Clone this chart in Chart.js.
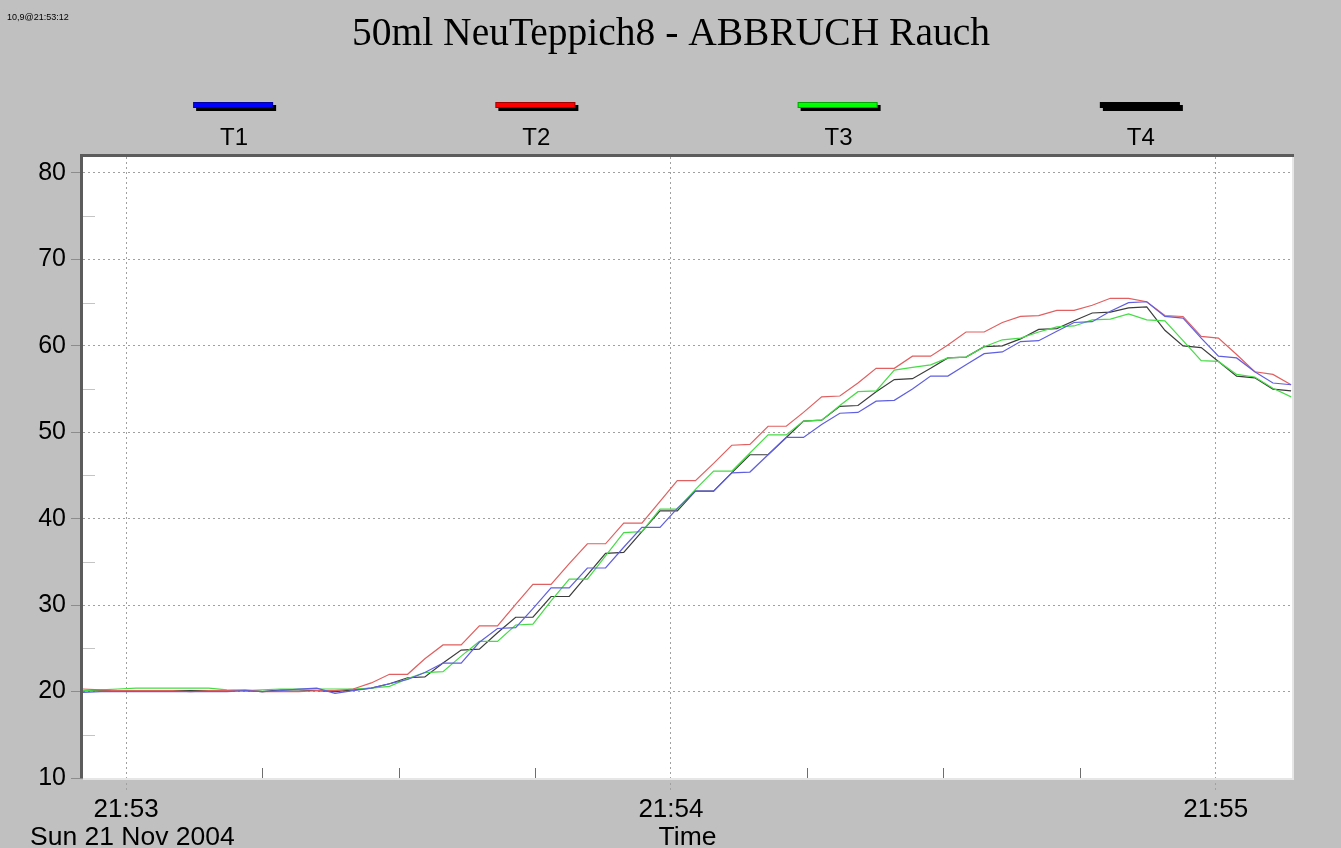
<!DOCTYPE html>
<html>
<head>
<meta charset="utf-8">
<title>50ml NeuTeppich8 - ABBRUCH Rauch</title>
<script src="https://cdn.jsdelivr.net/npm/chart.js@4.4.0/dist/chart.umd.min.js"></script>
<style>
    html, body { margin: 0; padding: 0; background: #c0c0c0; }
    #wrap { position: relative; width: 1341px; height: 848px; }
</style>
</head>
<body>
<div id="wrap"><canvas id="tempChart"></canvas></div>
<script>
// seconds after 21:53:00, one sample about every 2 s
const times = [-4.8, -2.8, -0.9, 1.1, 3.1, 5.1, 7.1, 9.1, 11.1, 13.1, 15.0, 17.0, 19.0, 21.0, 23.0, 25.0, 27.0,
    29.0, 31.0, 32.9, 34.9, 36.9, 38.9, 40.9, 42.9, 44.8, 46.8, 48.8, 50.8, 52.8, 54.8, 56.8, 58.8, 60.7, 62.7,
    64.7, 66.7, 68.7, 70.7, 72.7, 74.6, 76.6, 78.6, 80.6, 82.6, 84.6, 86.6, 88.6, 90.5, 92.5, 94.5, 96.5, 98.5,
    100.5, 102.5, 104.4, 106.4, 108.4, 110.4, 112.4, 114.4, 116.4, 118.4, 120.3, 122.3, 124.3, 126.3, 128.3];

const t1 = [19.9, 20.0, 20.0, 20.0, 20.0, 20.0, 20.0, 20.0, 20.0, 20.1, 20.0, 20.1, 20.3, 20.4, 19.8, 20.1, 20.4,
    20.9, 21.4, 22.2, 23.3, 23.3, 25.7, 27.3, 27.4, 29.6, 32.0, 32.0, 34.3, 34.3, 36.7, 39.0, 39.0, 41.2, 43.2,
    43.2, 45.3, 45.4, 47.4, 49.4, 49.4, 50.9, 52.2, 52.3, 53.6, 53.7, 55.0, 56.5, 56.5, 57.8, 59.1, 59.3, 60.5,
    60.6, 61.7, 62.7, 62.8, 64.0, 65.0, 65.1, 63.4, 63.2, 60.9, 58.8, 58.6, 57.0, 55.7, 55.5];
const t2 = [20.3, 20.2, 20.1, 20.1, 20.1, 20.1, 20.0, 20.1, 20.1, 20.2, 20.0, 20.0, 20.0, 20.1, 20.1, 20.3, 21.0,
    22.0, 22.0, 23.8, 25.4, 25.4, 27.6, 27.6, 30.1, 32.4, 32.4, 34.8, 37.1, 37.1, 39.5, 39.5, 42.0, 44.4, 44.4,
    46.4, 48.5, 48.6, 50.7, 50.7, 52.3, 54.1, 54.2, 55.7, 57.4, 57.4, 58.8, 58.8, 60.1, 61.6, 61.6, 62.7, 63.4,
    63.5, 64.1, 64.1, 64.7, 65.5, 65.5, 65.1, 63.5, 63.4, 61.1, 60.9, 59.0, 57.0, 56.7, 55.5];
const t3 = [20.1, 20.2, 20.3, 20.4, 20.4, 20.4, 20.4, 20.4, 20.2, 20.1, 20.2, 20.3, 20.3, 20.3, 20.3, 20.3, 20.4,
    20.6, 21.5, 22.2, 22.3, 24.1, 25.8, 25.8, 27.7, 27.8, 30.5, 33.0, 33.0, 35.7, 38.4, 38.5, 41.1, 41.1, 43.4,
    45.5, 45.5, 47.6, 49.7, 49.7, 51.3, 51.4, 53.1, 54.7, 54.8, 57.2, 57.5, 57.8, 58.6, 58.7, 59.9, 60.7, 60.9,
    61.6, 62.2, 62.3, 63.0, 63.1, 63.7, 63.0, 62.9, 60.6, 58.3, 58.2, 56.7, 56.4, 55.1, 54.1];
const t4 = [20.1, 20.1, 20.1, 20.1, 20.1, 20.1, 20.1, 20.1, 20.1, 20.1, 20.0, 20.2, 20.2, 20.1, 20.0, 20.2, 20.4,
    20.9, 21.6, 21.7, 23.3, 24.8, 24.9, 26.8, 28.6, 28.6, 31.0, 31.0, 33.5, 36.0, 36.1, 38.5, 40.9, 40.9, 43.2,
    43.2, 45.3, 47.4, 47.4, 49.4, 51.3, 51.4, 53.0, 53.1, 54.7, 56.1, 56.2, 57.4, 58.6, 58.7, 59.9, 60.0, 60.8,
    61.9, 62.0, 62.9, 63.8, 63.9, 64.4, 64.5, 61.8, 60.0, 59.8, 58.2, 56.5, 56.3, 55.0, 54.8];

const seriesNames = ['T1', 'T2', 'T3', 'T4'];
const legendColors = ['#0000ff', '#ff0000', '#00ff00', '#000000'];
const lineColors = ['rgb(95, 95, 225)', 'rgb(225, 95, 95)', 'rgb(70, 220, 70)', 'rgb(60, 60, 60)'];

const xTicks = [0, 60, 120];
const xTickLabels = ['21:53', '21:54', '21:55'];
const xMinorTicks = [15, 30, 45, 75, 90, 105];
const yTicks = [10, 20, 30, 40, 50, 60, 70, 80];
const yMinorTicks = [15, 25, 35, 45, 55, 65, 75];

const chartTitle = '50ml NeuTeppich8 - ABBRUCH Rauch';
const cornerText = '10,9@21:53:12';
const dateText = 'Sun 21 Nov 2004';
const axisText = 'Time';

const SANS = '"Liberation Sans", Arial, sans-serif';
const SERIF = '"Liberation Serif", "Times New Roman", serif';

// background, frame, legend and the extra texts around the plot
const decor = {
    id: 'decor',
    beforeDraw(chart) {
        const { ctx, chartArea: a } = chart;
        ctx.save();
        ctx.fillStyle = '#c0c0c0';
        ctx.fillRect(0, 0, chart.width, chart.height);
        ctx.fillStyle = '#ffffff';
        ctx.fillRect(a.left, a.top, a.right - a.left, a.bottom - a.top);
        ctx.restore();
    },
    afterDraw(chart) {
        const { ctx, chartArea: a, scales } = chart;
        ctx.save();

        // minor ticks inside the plot
        ctx.lineWidth = 1;
        ctx.strokeStyle = '#c4c4c4';
        yMinorTicks.forEach(v => {
            const y = Math.round(scales.y.getPixelForValue(v)) + 0.5;
            ctx.beginPath();
            ctx.moveTo(a.left, y);
            ctx.lineTo(a.left + 12, y);
            ctx.stroke();
        });
        ctx.strokeStyle = '#6e6e6e';
        xMinorTicks.forEach(v => {
            const x = Math.round(scales.x.getPixelForValue(v)) + 0.5;
            ctx.beginPath();
            ctx.moveTo(x, a.bottom - 10);
            ctx.lineTo(x, a.bottom);
            ctx.stroke();
        });

        // sunken frame
        ctx.fillStyle = '#e6e6e6';
        ctx.fillRect(a.left, a.bottom, a.right - a.left + 2, 2);
        ctx.fillRect(a.right, a.top, 2, a.bottom - a.top + 2);
        ctx.fillStyle = '#5c5c5c';
        ctx.fillRect(a.left - 3, a.top - 3, 3, a.bottom - a.top + 3);
        ctx.fillRect(a.left - 3, a.top - 3, a.right - a.left + 5, 3);

        // title
        ctx.fillStyle = '#000';
        ctx.textAlign = 'center';
        ctx.textBaseline = 'alphabetic';
        ctx.font = '39.5px ' + SERIF;
        ctx.fillText(chartTitle, 671, 45);

        ctx.textAlign = 'left';
        ctx.font = '9px ' + SANS;
        ctx.fillText(cornerText, 7, 20);

        // legend
        const w = (a.right - a.left) / seriesNames.length;
        seriesNames.forEach((name, i) => {
            const cx = a.left + w * (i + 0.5);
            ctx.fillStyle = '#000';
            ctx.fillRect(cx - 38, 105, 80, 6);
            ctx.fillStyle = legendColors[i];
            ctx.fillRect(cx - 41, 102, 80, 6);
            ctx.strokeStyle = 'rgba(0,0,0,0.35)';
            ctx.strokeRect(cx - 40.5, 102.5, 79, 5);
            ctx.fillStyle = '#000';
            ctx.textAlign = 'center';
            ctx.font = '24px ' + SANS;
            ctx.fillText(name, cx, 145);
        });

        // texts under the x axis
        ctx.font = '26.5px ' + SANS;
        ctx.textAlign = 'left';
        ctx.fillText(dateText, 30, 845);
        ctx.textAlign = 'center';
        ctx.fillText(axisText, (a.left + a.right) / 2, 845);
        ctx.restore();
    },
};

const datasets = [t1, t2, t3, t4].map((values, i) => ({
    label: seriesNames[i],
    data: values.map((v, j) => ({ x: times[j], y: v })),
    borderColor: lineColors[i],
    borderWidth: 1.2,
    pointRadius: 0,
    tension: 0,
    fill: false,
}));

new Chart(document.querySelector('#tempChart'), {
    type: 'line',
    data: { datasets },
    options: {
        responsive: true,
        maintainAspectRatio: false,
        animation: false,
        events: [],
        layout: { padding: { top: 157, right: 49, bottom: 0, left: 0 } },
        plugins: {
            legend: { display: false },
            title: { display: false },
            tooltip: { enabled: false },
        },
        scales: {
            x: {
                type: 'linear',
                min: -4.75,
                max: 128.4,
                afterBuildTicks: scale => {
                    scale.ticks = xTicks.map(v => ({ value: v }));
                },
                afterFit: scale => {
                    scale.height = 70;
                },
                ticks: {
                    autoSkip: false,
                    maxRotation: 0,
                    padding: 2,
                    color: '#000',
                    font: { family: SANS, size: 26 },
                    callback: value => xTickLabels[xTicks.indexOf(value)],
                },
                grid: {
                    color: '#a0a0a0',
                    tickColor: '#a0a0a0',
                    tickLength: 14,
                    tickBorderDash: [2, 3],
                },
                border: { display: false, dash: [2, 3] },
            },
            y: {
                type: 'linear',
                min: 10,
                max: 81.85,
                afterBuildTicks: scale => {
                    scale.ticks = yTicks.map(v => ({ value: v }));
                },
                afterFit: scale => {
                    scale.width = 83;
                },
                ticks: {
                    padding: 5,
                    color: '#000',
                    font: { family: SANS, size: 25 },
                },
                grid: {
                    color: ctx => (ctx.tick && ctx.tick.value === 10 ? 'rgba(0,0,0,0)' : '#a0a0a0'),
                    tickColor: '#8c8c8c',
                    tickLength: 12,
                },
                border: { display: false, dash: [2, 3] },
            },
        },
    },
    plugins: [decor],
});
</script>
</body>
</html>
